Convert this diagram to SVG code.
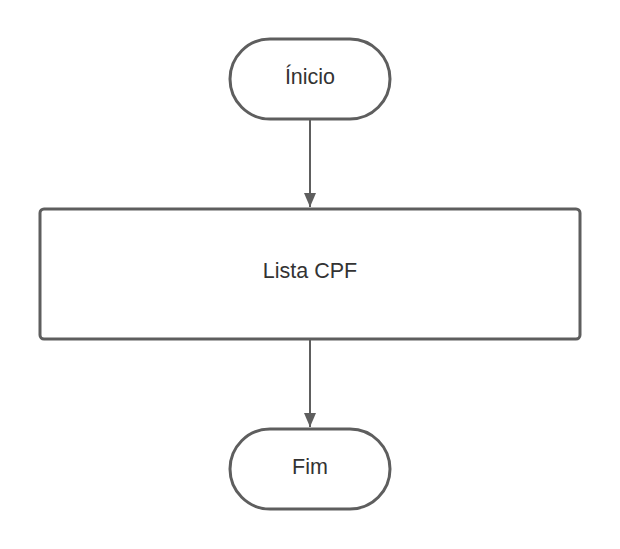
<svg xmlns="http://www.w3.org/2000/svg" width="620" height="549" viewBox="0 0 620 549">
<style>
.shape{fill:#ffffff;stroke:#5e5e5e;stroke-width:3}
.lbl{font-family:"Liberation Sans",Arial,sans-serif;font-size:21.5px;fill:#333333;text-anchor:middle;dominant-baseline:central}
.conn{stroke:#5e5e5e;stroke-width:2;fill:none}
</style>
<defs>
<marker id="a2" markerWidth="14" markerHeight="12" refX="14" refY="6" orient="auto" markerUnits="userSpaceOnUse">
<path d="M0,0 L14,6 L0,12 Z" fill="#5e5e5e"/>
</marker>
</defs>
<rect width="620" height="549" fill="#ffffff"/>
<g id="connectors">
<line class="conn" x1="310" y1="120" x2="310" y2="207" marker-end="url(#a2)"/>
<line class="conn" x1="310" y1="340" x2="310" y2="427" marker-end="url(#a2)"/>
</g>
<g id="inicio">
<rect class="shape" x="230" y="39" width="160" height="80" rx="40" ry="40"/>
<text class="lbl" x="310" y="77">Ínicio</text>
</g>
<g id="lista">
<rect class="shape" x="40" y="209" width="540" height="130" rx="4" ry="4"/>
<text class="lbl" x="310" y="271">Lista CPF</text>
</g>
<g id="fim">
<rect class="shape" x="230" y="429" width="160" height="80" rx="40" ry="40"/>
<text class="lbl" x="310" y="467">Fim</text>
</g>
</svg>
